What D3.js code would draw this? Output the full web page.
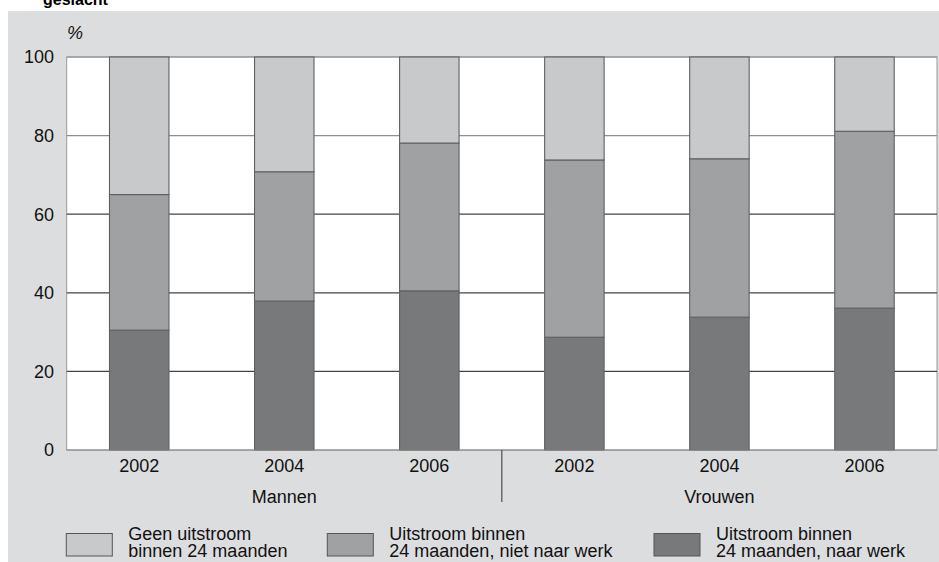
<!DOCTYPE html>
<html><head><meta charset="utf-8">
<script src="https://cdn.jsdelivr.net/npm/d3@7"></script>
<style>body{margin:0;background:#fff}svg{display:block;font-family:"Liberation Sans",Arial,sans-serif}</style>
</head><body>
<svg id="c" width="939" height="562"></svg>
<script>
const groups = ["Mannen","Mannen","Mannen","Vrouwen","Vrouwen","Vrouwen"];
const years = ["2002","2004","2006","2002","2004","2006"];
const naarWerk = [30.5, 37.9, 40.5, 28.7, 33.8, 36.1];
const nietNaarWerk = [34.5, 32.9, 37.6, 45.1, 40.3, 45.0];
const geenUitstroom = [35.0, 29.2, 21.9, 26.2, 25.9, 18.9];
const seriesNames = ["Geen uitstroom|binnen 24 maanden","Uitstroom binnen|24 maanden, niet naar werk","Uitstroom binnen|24 maanden, naar werk"];
const yTicks = [0,20,40,60,80,100];
const title = "geslacht";

const colors = {naar:"#78797b", niet:"#a0a1a3", geen:"#c8c9cb"};
const FS = 18;
const svg = d3.select("#c");
svg.append("rect").attr("x",8).attr("y",11).attr("width",931).attr("height",551).attr("fill","#dcdddf");
svg.append("text").attr("x",43).attr("y",5).attr("font-weight","bold").attr("font-size",16).attr("fill","#000").text(title);

const L=66.7, R=937, T=57, B=450;
const idx = d3.range(years.length);
const x = d3.scaleBand().domain(idx).range([L,R]).paddingInner(0.59).paddingOuter(0.295);
const y = d3.scaleLinear().domain([0,100]).range([B,T]);

svg.append("rect").attr("x",L).attr("y",T).attr("width",R-L).attr("height",B-T).attr("fill","#fff").attr("stroke","#999").attr("stroke-width",1);
svg.append("g").selectAll("line").data(yTicks.filter(d=>d>0)).join("line")
  .attr("x1",L).attr("x2",R).attr("y1",d=>y(d)).attr("y2",d=>y(d))
  .attr("stroke",d=>d>=80?"#8e8e8e":"#444").attr("stroke-width",1.2);

const stack = idx.map(i=>[
  {k:"naar", y0:0, y1:naarWerk[i]},
  {k:"niet", y0:naarWerk[i], y1:naarWerk[i]+nietNaarWerk[i]},
  {k:"geen", y0:naarWerk[i]+nietNaarWerk[i], y1:Math.min(100,naarWerk[i]+nietNaarWerk[i]+geenUitstroom[i])}
]);
const bars = svg.append("g");
idx.forEach(i=>{
  bars.selectAll(null).data(stack[i]).join("rect")
   .attr("x",x(i)).attr("width",x.bandwidth())
   .attr("y",d=>y(d.y1)).attr("height",d=>y(d.y0)-y(d.y1))
   .attr("fill",d=>colors[d.k]).attr("stroke","#5f6062").attr("stroke-width",1.1);
});
svg.append("line").attr("x1",L).attr("x2",R).attr("y1",B).attr("y2",B).attr("stroke","#888").attr("stroke-width",1.2);

svg.append("g").selectAll("text").data(yTicks).join("text")
  .attr("x",54).attr("y",d=>y(d)).attr("dy","0.35em").attr("text-anchor","end")
  .attr("font-size",FS).attr("fill","#111").text(d=>d);
svg.append("text").attr("x",67).attr("y",39).attr("font-size",FS).attr("font-style","italic").attr("fill","#111").text("%");

svg.append("g").selectAll("text").data(idx).join("text")
  .attr("x",i=>x(i)+x.bandwidth()/2).attr("y",472).attr("text-anchor","middle")
  .attr("font-size",FS).attr("fill","#111").text(i=>years[i]);
const grp = d3.groups(idx, i=>groups[i]);
const step = x.step();
grp.forEach(([g, arr])=>{
  const x0 = x(arr[0]) - x.paddingOuter()*step;
  const x1 = x(arr[arr.length-1]) + x.bandwidth() + x.paddingOuter()*step;
  svg.append("text").attr("x",(x0+x1)/2).attr("y",503).attr("text-anchor","middle")
    .attr("font-size",FS).attr("fill","#111").text(g);
});
const divX = x(3) - x.paddingOuter()*step;
svg.append("line").attr("x1",divX).attr("x2",divX).attr("y1",B).attr("y2",502).attr("stroke","#333").attr("stroke-width",1);

const legX = [66.3, 327.3, 654];
const legKeys = ["geen","niet","naar"];
seriesNames.forEach((s,i)=>{
  const g = svg.append("g");
  g.append("rect").attr("x",legX[i]).attr("y",533.5).attr("width",46).attr("height",22.5)
   .attr("fill",colors[legKeys[i]]).attr("stroke","#555").attr("stroke-width",1);
  s.split("|").forEach((t,j)=>{
    g.append("text").attr("x",legX[i]+62).attr("y",539.5+j*17.5).attr("font-size",FS).attr("fill","#111").text(t);
  });
});
</script>
</body></html>
